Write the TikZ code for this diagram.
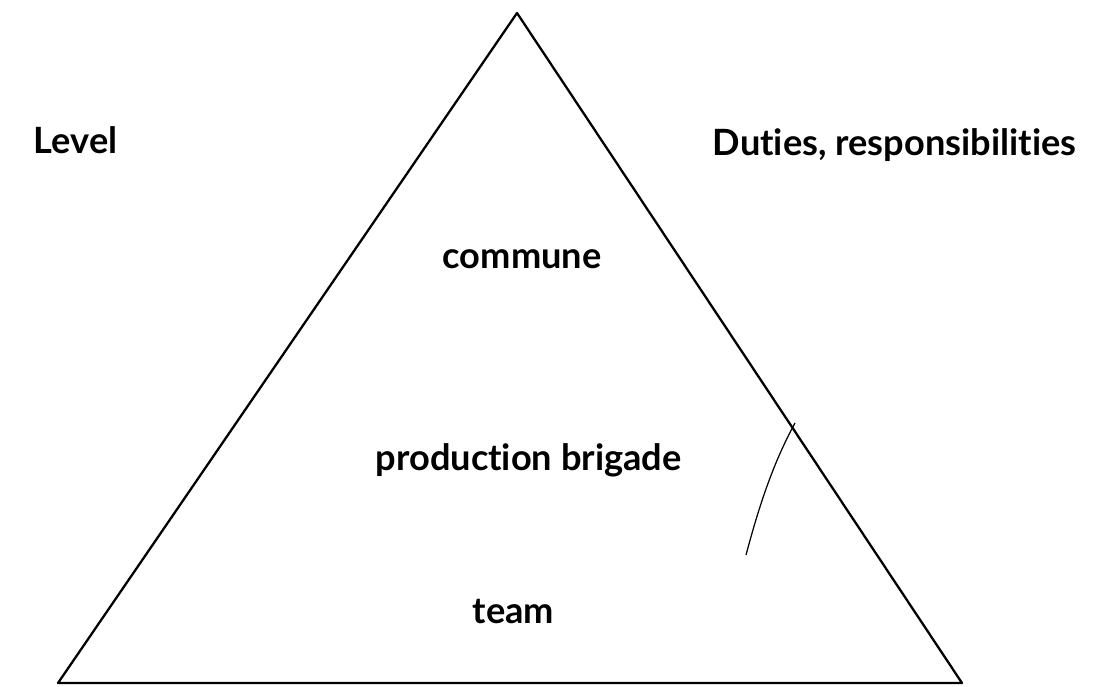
\documentclass[tikz,border=0pt]{standalone}
\usepackage{fontspec}
\setmainfont[Ligatures=NoCommon]{Lato}
\begin{document}
\begin{tikzpicture}[x=0.1mm,y=-0.1mm,
	label/.style={font=\bfseries\fontsize{10.3}{12}\selectfont, inner sep=0pt, anchor=base west}]
	\useasboundingbox (0,0) rectangle (1099,686);

	%triangle
	\coordinate (apex) at (517,13);
	\coordinate (left) at (58,683);
	\coordinate (right) at (962,683);
	\draw [line width=0.65pt, line join=round] (left) -- (apex) -- (right) -- cycle;

	%stray stroke
	\coordinate (strokeTop) at (795,423);
	\coordinate (strokeBot) at (746,555);
	\draw [line width=0.35pt] (strokeTop) .. controls (772,465) and (758,510) .. (strokeBot);

	%labels
	\node [label] (level) at (33,153) {Level};
	\node [label] (duties) at (712,155) {Duties, responsibilities};
	\node [label] (commune) at (442,268) {commune};
	\node [label] (brigade) at (375,470) {production brigade};
	\node [label] (team) at (472,623) {team};

\end{tikzpicture}
\end{document}
